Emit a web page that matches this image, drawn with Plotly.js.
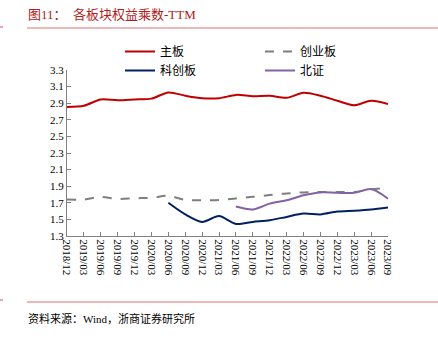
<!DOCTYPE html>
<html>
<head>
<meta charset="utf-8">
<script src="https://cdn.plot.ly/plotly-3.0.1.min.js"></script>
<style>html,body{margin:0;padding:0;background:#fff;}#chart{width:438px;height:340px;}</style>
</head>
<body>
<div id="chart"></div>
<script>
const categories = ["2018/12","2019/03","2019/06","2019/09","2019/12","2020/03","2020/06","2020/09","2020/12","2021/03","2021/06","2021/09","2021/12","2022/03","2022/06","2022/09","2022/12","2023/03","2023/06","2023/09"];
const mainBoard = [2.855,2.87,2.945,2.935,2.945,2.955,3.03,2.99,2.96,2.96,3.00,2.985,2.99,2.965,3.025,2.99,2.93,2.875,2.93,2.89];
const chinext = [1.74,1.74,1.77,1.745,1.755,1.76,1.785,1.735,1.73,1.733,1.753,1.772,1.793,1.813,1.825,1.83,1.83,1.83,1.86,1.88];
const star = [null,null,null,null,null,null,1.70,1.56,1.47,1.54,1.445,1.47,1.49,1.53,1.57,1.56,1.595,1.605,1.62,1.645];
const bse = [null,null,null,null,null,null,null,null,null,null,1.655,1.62,1.69,1.73,1.79,1.825,1.82,1.82,1.865,1.75];
const yTicks = [1.3,1.5,1.7,1.9,2.1,2.3,2.5,2.7,2.9,3.1,3.3];

const serif = "Liberation Serif, Times New Roman, Noto Sans CJK SC, serif";
const cjk = "Liberation Serif, Noto Sans CJK SC, sans-serif";

function tr(name, y, color, dash){
  return {x: categories, y: y, name: name, type: 'scatter', mode: 'lines',
    line: {color: color, width: 2, dash: dash, shape: 'spline', smoothing: 0.8},
    connectgaps: false, hoverinfo: 'skip'};
}
const data = [
  tr('主板', mainBoard, '#C00000', 'solid'),
  tr('创业板', chinext, '#7F7F7F', 'dash'),
  tr('科创板', star, '#002060', 'solid'),
  tr('北证', bse, '#8064A2', 'solid')
];

const L = 67, W = 321, T = 70, H = 166;
const px = v => (v - L) / W;
const py = v => (T + H - v) / H;

const layout = {
  width: 438, height: 340,
  margin: {l: L, r: 438 - L - W, t: T, b: 340 - T - H, pad: 0},
  paper_bgcolor: '#fff', plot_bgcolor: '#fff',
  showlegend: true,
  legend: {orientation: 'h', x: px(120), y: py(37), xanchor: 'left', yanchor: 'top',
    entrywidth: 95, entrywidthmode: 'pixels', traceorder: 'normal',
    font: {family: cjk, size: 12, color: '#000'}, bgcolor: 'rgba(0,0,0,0)', tracegroupgap: 0},
  xaxis: {type: 'category', range: [0, categories.length - 1], showgrid: false, zeroline: false,
    showline: true, linecolor: '#808080', linewidth: 1, ticks: 'inside', ticklen: 4, tickcolor: '#808080',
    tickangle: 90, tickfont: {family: serif, size: 11, color: '#000'}, fixedrange: true},
  yaxis: {range: [1.3, 3.3], tickvals: yTicks, ticktext: yTicks.map(v => v.toFixed(1)),
    showgrid: false, zeroline: false, showline: true, linecolor: '#808080', linewidth: 1,
    ticks: 'inside', ticklen: 4, tickcolor: '#808080',
    tickfont: {family: serif, size: 11, color: '#000'}, fixedrange: true},
  annotations: [
    {text: '图11：  各板块权益乘数-TTM', xref: 'paper', yref: 'paper', x: px(26), y: py(14),
      xanchor: 'left', yanchor: 'middle', showarrow: false,
      font: {family: cjk, size: 13, color: '#B02020'}},
    {text: '资料来源：Wind，浙商证券研究所', xref: 'paper', yref: 'paper', x: px(26), y: py(318),
      xanchor: 'left', yanchor: 'middle', showarrow: false,
      font: {family: cjk, size: 11, color: '#000'}}
  ],
  shapes: [
    {type: 'line', xref: 'paper', yref: 'paper', x0: px(27), x1: px(438), y0: py(28), y1: py(28),
      line: {color: '#E07070', width: 1.2}},
    {type: 'line', xref: 'paper', yref: 'paper', x0: px(0), x1: px(3), y0: py(27), y1: py(27),
      line: {color: '#E07070', width: 1.2}},
    {type: 'line', xref: 'paper', yref: 'paper', x0: px(27), x1: px(438), y0: py(302), y1: py(302),
      line: {color: '#E07070', width: 1.2}},
    {type: 'line', xref: 'paper', yref: 'paper', x0: px(0), x1: px(3), y0: py(300), y1: py(300),
      line: {color: '#E07070', width: 1.2}}
  ]
};
Plotly.newPlot('chart', data, layout, {staticPlot: true, displayModeBar: false});
</script>
</body>
</html>
